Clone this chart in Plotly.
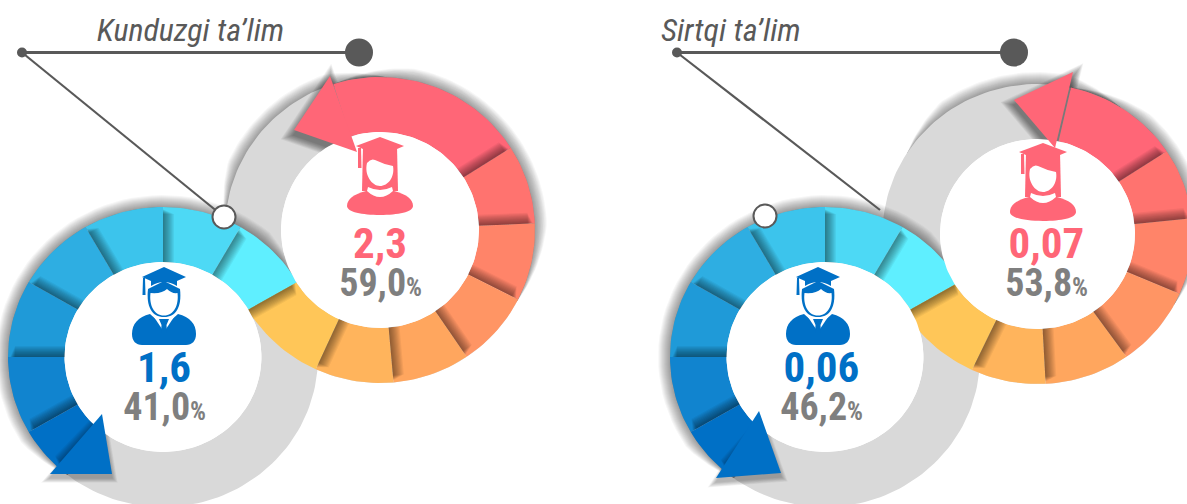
import math
import plotly.graph_objects as go

# ---------- data ----------
GROUPS = ["Kunduzgi ta’lim", "Sirtqi ta’lim"]
MEN_VALUES = ["1,6", "0,06"]
MEN_SHARES = ["41,0", "46,2"]
WOMEN_VALUES = ["2,3", "0,07"]
WOMEN_SHARES = ["59,0", "53,8"]
# angular size (degrees) of every ring segment, panel by panel
BLUE_SPANS = [[30, 30, 30, 30, 30, 30, 17], [30, 30, 30, 30, 30, 30, 19]]
WARM_SPANS = [[75, 30, 29.5, 29, 29, 29.5, 34.5], [44, 27.5, 29.5, 31.5, 32, 28, 35]]
BLUE_COLORS = ["#5FEFFF", "#4DD9F5", "#3CC4EC", "#2EAEE2", "#1F9AD8", "#1184CF", "#0070C6"]
WARM_COLORS = ["#FF6677", "#FF736F", "#FF8469", "#FF9564", "#FFA65E", "#FFB45C", "#FFC658"]

GRAY = "#D9D9D9"
INK = "#595959"
BLUE = "#0070C6"
PINK = "#FF6677"
SHARE_GRAY = "#7F7F7F"
W, H = 1187, 504

PANELS = [
    dict(blue=(163, 357), warm=(380, 230), warm_ro=(155, 153), warm_ri=(99, 98), warm_end=239,
         dot0=(22, 52.5), dot1=(359, 52.5), title_x=190,
         ring_dot=(224, 217), line_end=(224, 217), man=(164, 267), woman=(380, 137), man_txt=164, woman_txt=380,
         warm_tri=[(330, 76), (294, 130), (357, 152)], blue_tri=[(102, 414), (112, 474), (50, 474)]),
    dict(blue=(825, 357), warm=(1037.5, 234), warm_ro=(155, 150), warm_ri=(97.5, 95), warm_end=240,
         dot0=(677, 52.5), dot1=(1014, 52.5), title_x=731,
         ring_dot=(765, 216), line_end=(880, 210), man=(818, 267), woman=(1043, 143), man_txt=821, woman_txt=1046,
         warm_tri=[(1073, 72), (1014, 100), (1055, 148)], blue_tri=[(759, 411), (781, 473), (716, 478)]),
]
BLUE_RO = (155, 150)
BLUE_RI = (98.5, 95)

fig = go.Figure()


def pt(c, r, a):
    t = math.radians(a)
    return c[0] + r[0] * math.sin(t), c[1] - r[1] * math.cos(t)


def poly(xs, ys, color):
    fig.add_trace(go.Scatter(x=list(xs) + [xs[0]], y=list(ys) + [ys[0]], mode="lines", fill="toself",
                             fillcolor=color, line=dict(width=0, color=color), hoverinfo="skip", showlegend=False))


def wedge(c, ri, ro, a0, a1, color):
    n = max(2, int(abs(a1 - a0) / 2) + 1)
    angs = [a0 + (a1 - a0) * i / n for i in range(n + 1)]
    outer = [pt(c, ro, a) for a in angs]
    inner = [pt(c, ri, a) for a in reversed(angs)] if ri[0] > 0 else [c]
    p = outer + inner
    poly([q[0] for q in p], [q[1] for q in p], color)


def glow(c, ro, a0, a1, reach=12, layers=12, taper=22, alpha=0.036):
    """Soft outer shadow: stacked translucent bands that taper to nothing at both ends."""
    for k in range(layers, 0, -1):
        e = reach * k / layers
        angs = [a0 + (a1 - a0) * i / 60 for i in range(61)]
        out, inn = [], []
        for a in angs:
            s = min(1, min(a - a0, a1 - a) / taper)
            out.append(pt(c, (ro[0] + e * s, ro[1] + e * s), a))
            inn.append(pt(c, (ro[0] - 3, ro[1] - 3), a))
        p = out + inn[::-1]
        poly([q[0] for q in p], [q[1] for q in p], f"rgba(0,0,0,{alpha})")


def seam(c, ri, ro, a, side, layers=10):
    """Dark strip beside a segment seam; fades away from the seam."""
    t = math.radians(a)
    tx, ty = math.cos(t) * side, math.sin(t) * side
    for k in range(1, layers + 1):
        w = k * 1.1
        pi_ = pt(c, (ri[0] - 2, ri[1] - 2), a)
        po_ = pt(c, (ro[0] - 2 - k * 0.5, ro[1] - 2 - k * 0.5), a)
        poly([pi_[0], po_[0], po_[0] + tx * w, pi_[0] + tx * w],
             [pi_[1], po_[1], po_[1] + ty * w, pi_[1] + ty * w], "rgba(0,0,0,0.05)")


def tri_shadow(tri, dy, reach=9, layers=8, alpha=0.04):
    cx = sum(p[0] for p in tri) / 3
    cy = sum(p[1] for p in tri) / 3
    for k in range(layers, 0, -1):
        f = 1 + (reach * k / layers) / 30
        poly([cx + (p[0] - cx) * f for p in tri], [cy + dy + (p[1] - cy) * f for p in tri], f"rgba(0,0,0,{alpha})")


def rings(panel, blue_spans, warm_spans):
    b, w = panel["blue"], panel["warm"]
    wro, wri = panel["warm_ro"], panel["warm_ri"]
    warm_start = panel["warm_end"] - sum(warm_spans)
    blue_start = 60
    # gray tracks
    glow(w, wro, warm_start - 70, warm_start + 20)
    wedge(w, wri, wro, 0, 360, GRAY)
    wedge(b, BLUE_RI, BLUE_RO, 0, 360, GRAY)
    # warm arc with its shadows
    glow(w, wro, warm_start, 118, taper=30)
    tri_shadow(panel["warm_tri"], 5, reach=12, layers=10, alpha=0.055)
    a = warm_start
    for span, col in zip(warm_spans, WARM_COLORS):
        wedge(w, wri, wro, a, a + span, col)
        a += span
    a = warm_start
    for span in warm_spans[:-1]:
        a += span
        seam(w, wri, wro, a, -1)
    # blue arc with its shadows
    blue_end = blue_start - sum(blue_spans)
    glow(b, BLUE_RO, blue_end - 5, 60, taper=20)
    tri_shadow(panel["blue_tri"], 4, reach=7)
    a = blue_start
    for span, col in zip(blue_spans, BLUE_COLORS):
        wedge(b, BLUE_RI, BLUE_RO, a - span, a, col)
        a -= span
    seam(b, BLUE_RI, BLUE_RO, 60, 1)
    a = blue_start
    for span in blue_spans[:-1]:
        a -= span
        seam(b, BLUE_RI, BLUE_RO, a, 1)
    seam(b, BLUE_RI, BLUE_RO, blue_end, 1, layers=8)
    # white centres
    wedge(w, (0, 0), wri, 0, 360, "#FFFFFF")
    wedge(b, (0, 0), BLUE_RI, 0, 360, "#FFFFFF")
    # arrow heads
    poly([p[0] for p in panel["warm_tri"]], [p[1] for p in panel["warm_tri"]], PINK)
    poly([p[0] for p in panel["blue_tri"]], [p[1] for p in panel["blue_tri"]], BLUE)


def p_str(ox, oy, cmds):
    out = []
    for c in cmds:
        if isinstance(c, str):
            out.append(c)
        else:
            out.append(f"{ox + c[0]:.1f},{oy + c[1]:.1f}")
    return " ".join(out)


def icon_shape(ox, oy, cmds, color):
    fig.add_shape(type="path", path=p_str(ox, oy, cmds), fillcolor=color, line=dict(width=0),
                  xref="x", yref="y", layer="above")


def man_icon(o):
    x, y = o
    icon_shape(x, y, ["M", (0, 0), "L", (22, 10), "L", (13, 14), "L", (13, 19), "Q", (0, 11), (-13, 19), "L", (-13, 14), "L", (-22, 10), "Z"], BLUE)
    icon_shape(x, y, ["M", (-21, 11), "L", (-19, 11), "L", (-18.5, 28), "L", (-21.5, 28), "Z"], BLUE)
    icon_shape(x, y, ["M", (-16, 22), "C", (-18, 40), (-12, 50), (0, 50), "C", (12, 50), (18, 40), (16, 22), "L", (0, 14), "Z"], BLUE)
    icon_shape(x, y, ["M", (-13.5, 26), "Q", (-2, 27), (3, 22), "Q", (8, 27), (13.5, 26), "C", (15, 38), (10, 48.5), (0, 48.5), "C", (-10, 48.5), (-15, 38), (-13.5, 26), "Z"], "#FFFFFF")
    icon_shape(x, y, ["M", (-14, 47), "C", (-26, 50), (-32, 57), (-32, 67), "C", (-32, 74), (-28, 78), (-22, 78), "L", (22, 78), "C", (28, 78), (32, 74), (32, 67), "C", (32, 57), (26, 50), (14, 47), "L", (5, 55), "L", (-5, 55), "Z"], BLUE)
    icon_shape(x, y, ["M", (-10, 50), "L", (10, 50), "L", (2, 62), "L", (-2, 62), "Z"], "#FFFFFF")
    icon_shape(x, y, ["M", (-5, 52), "L", (5, 52), "L", (2.5, 58), "L", (3, 66), "L", (-3, 66), "L", (-2.5, 58), "Z"], BLUE)


def woman_icon(o):
    x, y = o
    icon_shape(x, y, ["M", (0, 0), "L", (24, 9), "L", (17, 12), "L", (-17, 12), "L", (-24, 9), "Z"], PINK)
    icon_shape(x, y, ["M", (-22, 11), "L", (-19, 11), "L", (-18.5, 31), "L", (-22, 31), "Z"], PINK)
    icon_shape(x, y, ["M", (-17, 9), "L", (17, 9), "L", (18, 54), "L", (-18, 54), "Z"], PINK)
    icon_shape(x, y, ["M", (-13, 26), "Q", (-9, 21), (-5, 23), "Q", (3, 27), (13, 29), "C", (15, 40), (8, 49), (0, 49), "C", (-8, 49), (-16, 38), (-13, 26), "Z"], "#FFFFFF")
    icon_shape(x, y, ["M", (-14, 54), "C", (-26, 57), (-33, 62), (-33, 69), "C", (-33, 75), (-18, 78), (0, 78), "C", (18, 78), (33, 75), (33, 69), "C", (33, 62), (26, 57), (14, 54), "Z"], PINK)
    icon_shape(x, y, ["M", (-12, 50), "Q", (0, 56), (12, 50), "L", (13, 54), "Q", (0, 66), (-13, 54), "Z"], "#FFFFFF")


FONT = "Roboto"
for i, panel in enumerate(PANELS):
    rings(panel, BLUE_SPANS[i], WARM_SPANS[i])
    man_icon(panel["man"])
    woman_icon(panel["woman"])
    dx0, dy0 = panel["dot0"]
    dx1, dy1 = panel["dot1"]
    ex, ey = panel["line_end"]
    fig.add_shape(type="line", x0=dx0, y0=dy0, x1=dx1, y1=dy1, line=dict(color=INK, width=3), layer="above")
    fig.add_shape(type="line", x0=dx0, y0=dy0, x1=ex, y1=ey, line=dict(color=INK, width=2.2), layer="above")
    fig.add_shape(type="circle", x0=dx0 - 5, y0=dy0 - 5, x1=dx0 + 5, y1=dy0 + 5, fillcolor=INK, line=dict(width=0), layer="above")
    fig.add_shape(type="circle", x0=dx1 - 14, y0=dy1 - 14, x1=dx1 + 14, y1=dy1 + 14, fillcolor=INK, line=dict(width=0), layer="above")
    rx, ry = panel["ring_dot"]
    fig.add_shape(type="circle", x0=rx - 11.5, y0=ry - 11.5, x1=rx + 11.5, y1=ry + 11.5, fillcolor="#FFFFFF",
                  line=dict(color=INK, width=2), layer="above")
    fig.add_annotation(x=panel["title_x"], y=30, text=f"<i>{GROUPS[i]}</i>", showarrow=False,
                       font=dict(family=FONT, size=32, color=INK))
    fig.add_annotation(x=panel["man_txt"], y=367, text=f"<b>{MEN_VALUES[i]}</b>", showarrow=False,
                       font=dict(family=FONT, size=43, color=BLUE))
    fig.add_annotation(x=panel["man_txt"], y=407, text=f"<b>{MEN_SHARES[i]}<span style='font-size:25px'>%</span></b>", showarrow=False,
                       font=dict(family=FONT, size=38, color=SHARE_GRAY))
    fig.add_annotation(x=panel["woman_txt"], y=243, text=f"<b>{WOMEN_VALUES[i]}</b>", showarrow=False,
                       font=dict(family=FONT, size=43, color=PINK))
    fig.add_annotation(x=panel["woman_txt"], y=283, text=f"<b>{WOMEN_SHARES[i]}<span style='font-size:25px'>%</span></b>", showarrow=False,
                       font=dict(family=FONT, size=38, color=SHARE_GRAY))

fig.update_layout(
    width=W, height=H, margin=dict(l=0, r=0, t=0, b=0), autosize=False,
    paper_bgcolor="#FFFFFF", plot_bgcolor="#FFFFFF", showlegend=False,
    xaxis=dict(range=[0, W], visible=False, fixedrange=True),
    yaxis=dict(range=[H, 0], visible=False, fixedrange=True),
)
fig.write_html("out.html", config=dict(displayModeBar=False),
               post_script="document.body.style.margin='0';"
                           "document.querySelectorAll('.annotation-text').forEach(function(t){t.style.fontStretch='75%';});")
